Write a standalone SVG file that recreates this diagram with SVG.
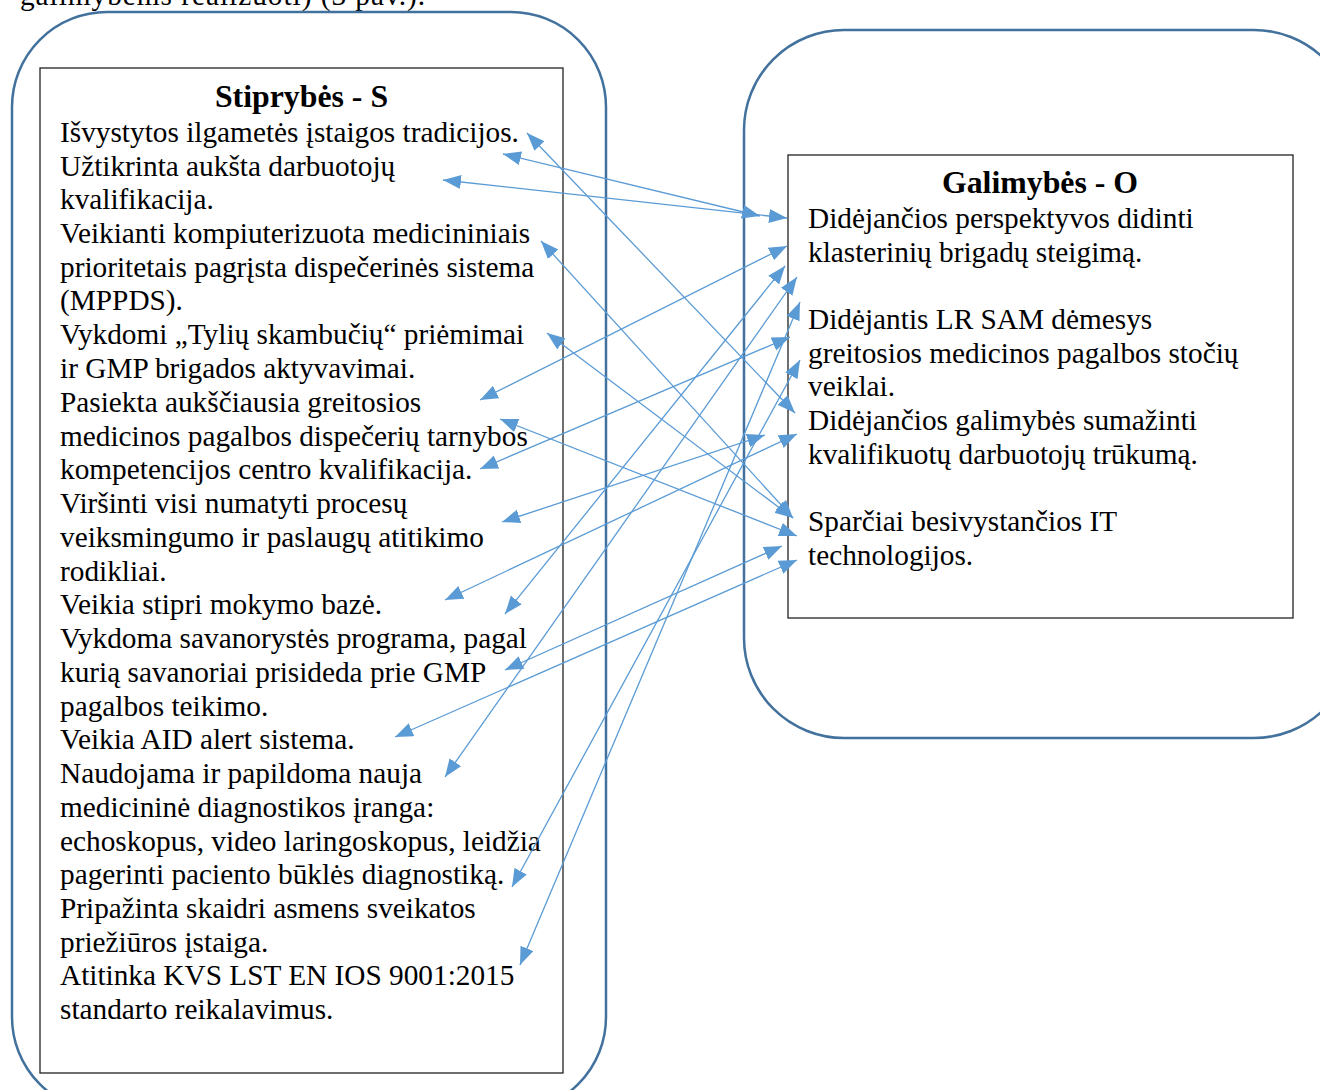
<svg xmlns="http://www.w3.org/2000/svg" width="1320" height="1090" viewBox="0 0 1320 1090">
<defs>
<style>
.t{font-family:"Liberation Serif","Times New Roman",serif;font-size:29.3px;fill:#000}
.h{font-family:"Liberation Serif","Times New Roman",serif;font-size:31.8px;font-weight:bold;fill:#000}
.outer{fill:none;stroke:#41719C;stroke-width:2.5}
.box{fill:#fff;stroke:#222;stroke-width:1.3}
.c{stroke:#5B9BD5;stroke-width:1.3;fill:none;marker-start:url(#ah);marker-end:url(#ah)}
</style>
<marker id="ah" markerUnits="userSpaceOnUse" markerWidth="19" markerHeight="15" refX="18" refY="7" orient="auto-start-reverse" viewBox="0 0 19 15">
<path d="M0,0 L18,7 L0,14 z" fill="#5B9BD5"/>
</marker>
</defs>
<rect width="1320" height="1090" fill="#fff"/>
<text class="t" x="20" y="5" textLength="405" lengthAdjust="spacing">galimybėms realizuoti) (3 pav.).</text>

<g id="strengths">
<rect class="outer" x="12" y="12" width="594" height="1100" rx="95" ry="95"/>
<rect class="box" x="40" y="68" width="523" height="1005"/>
<text class="h" x="301.5" y="107" text-anchor="middle">Stiprybės - S</text>
<text class="t" x="60" y="142">Išvystytos ilgametės įstaigos tradicijos.</text>
<text class="t" x="60" y="176">Užtikrinta aukšta darbuotojų</text>
<text class="t" x="60" y="209">kvalifikacija.</text>
<text class="t" x="60" y="243">Veikianti kompiuterizuota medicininiais</text>
<text class="t" x="60" y="277">prioritetais pagrįsta dispečerinės sistema</text>
<text class="t" x="60" y="310">(MPPDS).</text>
<text class="t" x="60" y="344">Vykdomi „Tylių skambučių“ priėmimai</text>
<text class="t" x="60" y="378">ir GMP brigados aktyvavimai.</text>
<text class="t" x="60" y="412">Pasiekta aukščiausia greitosios</text>
<text class="t" x="60" y="446">medicinos pagalbos dispečerių tarnybos</text>
<text class="t" x="60" y="479">kompetencijos centro kvalifikacija.</text>
<text class="t" x="60" y="513">Viršinti visi numatyti procesų</text>
<text class="t" x="60" y="547">veiksmingumo ir paslaugų atitikimo</text>
<text class="t" x="60" y="581">rodikliai.</text>
<text class="t" x="60" y="614">Veikia stipri mokymo bazė.</text>
<text class="t" x="60" y="648">Vykdoma savanorystės programa, pagal</text>
<text class="t" x="60" y="682">kurią savanoriai prisideda prie GMP</text>
<text class="t" x="60" y="716">pagalbos teikimo.</text>
<text class="t" x="60" y="749">Veikia AID alert sistema.</text>
<text class="t" x="60" y="783">Naudojama ir papildoma nauja</text>
<text class="t" x="60" y="817">medicininė diagnostikos įranga:</text>
<text class="t" x="60" y="851">echoskopus, video laringoskopus, leidžia</text>
<text class="t" x="60" y="884">pagerinti paciento būklės diagnostiką.</text>
<text class="t" x="60" y="918">Pripažinta skaidri asmens sveikatos</text>
<text class="t" x="60" y="952">priežiūros įstaiga.</text>
<text class="t" x="60" y="985">Atitinka KVS LST EN IOS 9001:2015</text>
<text class="t" x="60" y="1019">standarto reikalavimus.</text>
</g>

<g id="opportunities">
<rect class="outer" x="744" y="30" width="610" height="708" rx="100" ry="100"/>
<rect class="box" x="788" y="155" width="505" height="463"/>
<text class="h" x="1040" y="193" text-anchor="middle">Galimybės - O</text>
<text class="t" x="808" y="228">Didėjančios perspektyvos didinti</text>
<text class="t" x="808" y="262">klasterinių brigadų steigimą.</text>
<text class="t" x="808" y="329">Didėjantis LR SAM dėmesys</text>
<text class="t" x="808" y="363">greitosios medicinos pagalbos stočių</text>
<text class="t" x="808" y="396">veiklai.</text>
<text class="t" x="808" y="430">Didėjančios galimybės sumažinti</text>
<text class="t" x="808" y="464">kvalifikuotų darbuotojų trūkumą.</text>
<text class="t" x="808" y="531">Sparčiai besivystančios IT</text>
<text class="t" x="808" y="565">technologijos.</text>
</g>

<g id="connectors">
<line class="c" x1="527" y1="133" x2="795" y2="413"/>
<line class="c" x1="503" y1="154" x2="760" y2="216"/>
<line class="c" x1="443" y1="180" x2="787" y2="218"/>
<line class="c" x1="541" y1="241" x2="793" y2="518"/>
<line class="c" x1="547" y1="333" x2="793" y2="518"/>
<line class="c" x1="480" y1="400" x2="787" y2="246"/>
<line class="c" x1="500" y1="419" x2="797" y2="536"/>
<line class="c" x1="480" y1="469" x2="790" y2="337"/>
<line class="c" x1="502" y1="522" x2="765" y2="435"/>
<line class="c" x1="445" y1="600" x2="797" y2="434"/>
<line class="c" x1="505" y1="614" x2="785" y2="266"/>
<line class="c" x1="505" y1="670" x2="782" y2="546"/>
<line class="c" x1="395" y1="737" x2="797" y2="560"/>
<line class="c" x1="445" y1="777" x2="797" y2="277"/>
<line class="c" x1="512" y1="887" x2="800" y2="360"/>
<line class="c" x1="520" y1="965" x2="800" y2="302"/>
</g>
</svg>
